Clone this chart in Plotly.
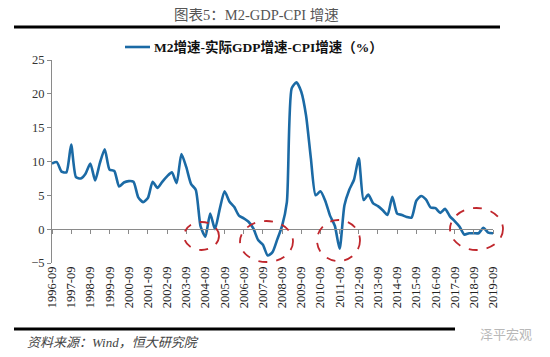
import plotly.graph_objects as go

# Quarterly categories from 1996-09 to 2019-09
quarters = []
for yr in range(1996, 2020):
    for mo in ("03", "06", "09", "12"):
        lab = f"{yr}-{mo}"
        if "1996-09" <= lab <= "2019-09":
            quarters.append(lab)

# M2 growth - real GDP growth - CPI growth (%)
m2_gap = [
    9.7, 9.9, 8.5, 8.4, 12.5, 7.7, 7.5, 8.2, 9.7, 7.2,
    9.8, 11.8, 8.8, 8.6, 6.3, 6.9, 7.1, 7.0, 4.7, 4.0,
    4.6, 7.0, 6.1, 7.0, 7.8, 8.4, 6.8, 11.1, 9.2, 6.7,
    5.8, 0.4, -1.1, 2.3, 0.0, 3.0, 5.6, 4.1, 3.3, 2.0,
    1.6, 1.1, 0.1, -1.6, -2.3, -3.9, -3.4, -1.5, 0.5, 4.0,
    20.8, 21.7, 20.3, 16.8, 10.5, 5.0, 5.6, 4.2, 2.0, 0.5,
    -2.9, 3.5, 5.8, 7.3, 10.5, 4.3, 5.1, 3.8, 3.4, 2.8,
    2.1, 4.8, 2.3, 2.1, 1.8, 1.7, 4.2, 4.9, 4.4, 3.2,
    3.1, 2.4, 3.0, 1.9, 1.2, 0.4, -0.8, -0.6, -0.6, -0.6,
    0.2, -0.5, -0.6,
]

tick_labels = [f"{y}-09" for y in range(1996, 2020)]
y_ticks = [-5, 0, 5, 10, 15, 20, 25]
y_range = [-5, 25]

series_name = "M2增速-实际GDP增速-CPI增速（%）"
title_text = "图表5：M2-GDP-CPI 增速"
source_text = "资料来源：Wind，恒大研究院"
watermark_text = "泽平宏观"

SERIF = "Times New Roman, Liberation Serif, Noto Sans CJK SC, serif"
LINE_COLOR = "#1b6aa5"
AXIS_COLOR = "#8a8a8a"

# figure fills the window minus the 8px default page margin
FIG_W, FIG_H, OFF = 542, 349, 8


def sx(x):
    """window pixel x -> paper fraction"""
    return (x - OFF) / FIG_W


def sy(y):
    """window pixel y -> paper fraction"""
    return 1 - (y - OFF) / FIG_H


x_dom = [sx(52), sx(493)]
y_dom = [sy(263), sy(60)]
zero_pos = y_dom[0] + (0 - y_range[0]) / (y_range[1] - y_range[0]) * (y_dom[1] - y_dom[0])

fig = go.Figure()

# helper trace so the zero-line axis (x2) is rendered
fig.add_trace(go.Scatter(
    x=quarters, y=m2_gap, xaxis="x2", mode="lines",
    line=dict(width=0), opacity=0, hoverinfo="skip", showlegend=False,
))

fig.add_trace(go.Scatter(
    x=quarters, y=m2_gap, mode="lines", name=series_name, showlegend=False,
    line=dict(color=LINE_COLOR, width=2.6, shape="spline", smoothing=0.6),
))

# header and footer rules on a full-figure overlay subplot
for (xa, xb, yy) in [(14, 500, 27), (14, 455, 329)]:
    fig.add_trace(go.Scatter(
        x=[sx(xa), sx(xb)], y=[sy(yy), sy(yy)], xaxis="x3", yaxis="y3",
        mode="lines", line=dict(color="black", width=3),
        hoverinfo="skip", showlegend=False,
    ))

# red dashed ellipses highlighting negative episodes (window pixels)
ellipses = [
    (184, 219, 222, 250),
    (240, 293, 221, 262),
    (317, 360, 220, 261),
    (450, 503, 208, 250),
]
shapes = []
for xa, xb, ya, yb in ellipses:
    shapes.append(dict(type="circle", xref="paper", yref="paper",
                       x0=sx(xa), x1=sx(xb), y0=sy(yb), y1=sy(ya),
                       line=dict(color="#c0272d", width=1.8, dash="dash")))
# legend key
shapes.append(dict(type="line", xref="paper", yref="paper",
                   x0=sx(125), x1=sx(150), y0=sy(47), y1=sy(47),
                   line=dict(color=LINE_COLOR, width=2.6)))

annotations = [
    dict(text=title_text, xref="paper", yref="paper", x=sx(256), y=sy(15),
         xanchor="center", yanchor="middle", showarrow=False,
         font=dict(family=SERIF, size=14.5, color="#555555")),
    dict(text="<b>" + series_name + "</b>", xref="paper", yref="paper",
         x=sx(152), y=sy(47), xanchor="left", yanchor="middle", showarrow=False,
         font=dict(family=SERIF, size=13.5, color="#111111")),
    dict(text="<i>" + source_text + "</i>", xref="paper", yref="paper",
         x=sx(25), y=sy(342), xanchor="left", yanchor="middle", showarrow=False,
         font=dict(family=SERIF, size=13, color="#444444")),
    dict(text=watermark_text, xref="paper", yref="paper",
         x=sx(506), y=sy(333), xanchor="center", yanchor="middle",
         showarrow=False,
         font=dict(family="Noto Sans CJK SC", size=13, color="#b8b8b8")),
]

fig.update_layout(
    width=FIG_W, height=FIG_H,
    margin=dict(l=0, r=0, t=0, b=0, autoexpand=False),
    paper_bgcolor="white", plot_bgcolor="rgba(0,0,0,0)",
    showlegend=False,
    xaxis=dict(type="category", domain=x_dom, anchor="y",
               range=[0, len(quarters) - 1],
               tickmode="array", tickvals=tick_labels, ticktext=tick_labels,
               tickangle=-90, showline=False, ticks="", showgrid=False,
               zeroline=False, automargin=False,
               tickfont=dict(family=SERIF, size=12.5, color="#222222")),
    xaxis2=dict(type="category", overlaying="x", anchor="free",
                position=zero_pos, side="bottom",
                range=[0, len(quarters) - 1],
                tickmode="array", tickvals=tick_labels,
                showticklabels=False, showline=True, linecolor=AXIS_COLOR,
                linewidth=1, ticks="outside", ticklen=4, tickcolor=AXIS_COLOR,
                showgrid=False, zeroline=False, automargin=False),
    yaxis=dict(domain=y_dom, anchor="x", range=y_range,
               tickmode="array", tickvals=y_ticks,
               showline=True, linecolor=AXIS_COLOR, linewidth=1,
               ticks="outside", ticklen=4, tickcolor=AXIS_COLOR,
               showgrid=False, zeroline=False, automargin=False,
               tickfont=dict(family=SERIF, size=12.5, color="#333333")),
    xaxis3=dict(domain=[0, 1], anchor="y3", range=[0, 1], visible=False,
                fixedrange=True),
    yaxis3=dict(domain=[0, 1], anchor="x3", range=[0, 1], visible=False,
                fixedrange=True),
    shapes=shapes,
    annotations=annotations,
)

fig.write_html("out.html")
